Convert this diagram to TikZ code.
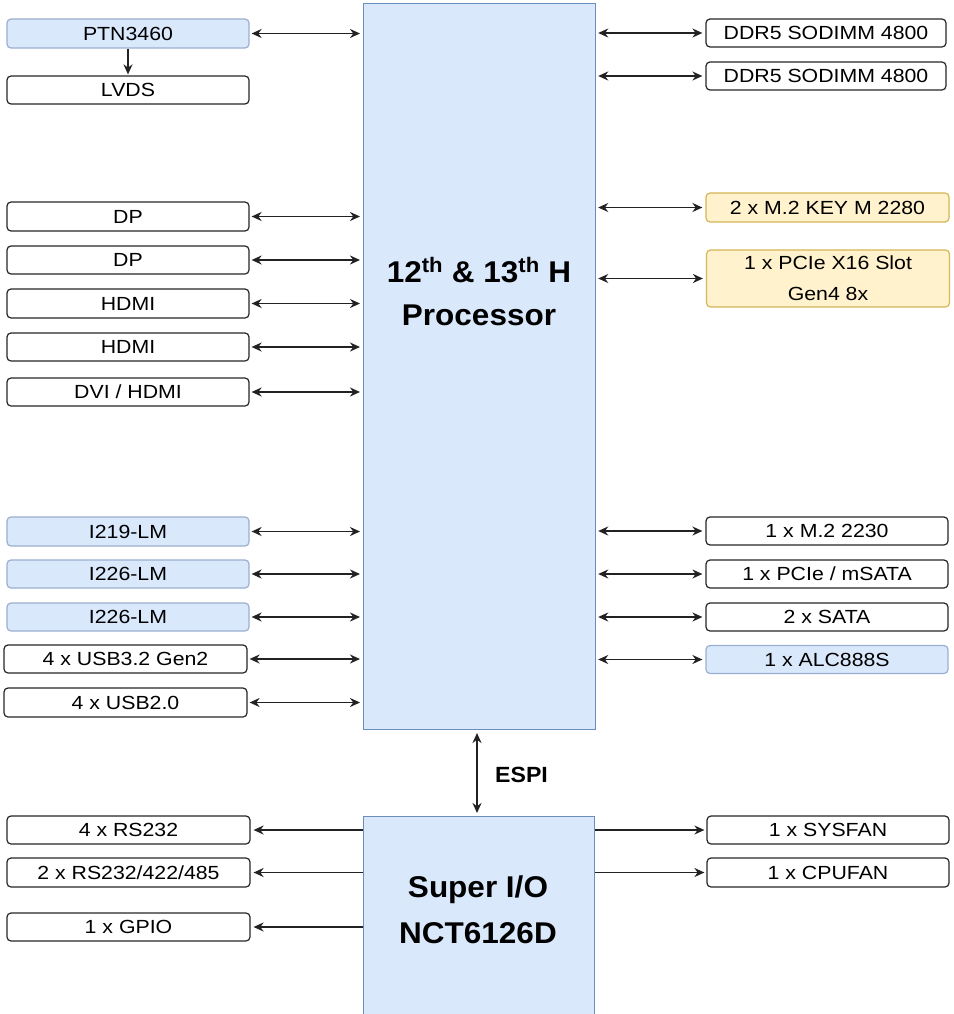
\documentclass[tikz,border=0pt]{standalone}
\usepackage{fontspec}
\setmainfont[FakeStretch=1.12]{Liberation Sans}
\newfontfamily\hdfont[FakeStretch=1.05]{Liberation Sans}
\usetikzlibrary{arrows.meta}
\definecolor{bfill}{HTML}{DAE8FC}
\definecolor{bdraw}{HTML}{6C8EBF}
\definecolor{bsdraw}{HTML}{9AAFCF}
\definecolor{yfill}{HTML}{FFF2CC}
\definecolor{ydraw}{HTML}{D6B656}
\definecolor{kdraw}{HTML}{262626}
\definecolor{adraw}{HTML}{222222}
\tikzset{
  base box/.style={rectangle, rounded corners=4pt, line width=1.2pt, minimum height=28pt, minimum width=242pt, inner sep=0pt, font=\fontsize{19}{22}\selectfont, text=black},
  wbox/.style={base box, draw=kdraw, fill=white},
  bbox/.style={base box, draw=bsdraw, fill=bfill},
  ybox/.style={base box, draw=ydraw, fill=yfill},
  chip/.style={rectangle, draw=bdraw, fill=bfill, line width=1.2pt},
  bigtxt/.style={font=\hdfont\bfseries\fontsize{30}{36}\selectfont, anchor=base, inner sep=0pt},
  conn/.style={line width=1.7pt, draw=adraw, {Stealth[length=10pt,width=9pt]}-{Stealth[length=10pt,width=9pt]}},
  oneway/.style={line width=1.7pt, draw=adraw, -{Stealth[length=10pt,width=9pt]}}
}
\begin{document}
\begin{tikzpicture}[x=1pt,y=-1pt]
\useasboundingbox (0,0) rectangle (953,1014);
% chips
\node[chip, minimum width=232pt, minimum height=726pt, anchor=north west] (proc) at (363,3) {};
\node[chip, minimum width=231pt, minimum height=210pt, anchor=north west] (sio) at (363,816) {};
\node[bigtxt] (pt1) at (479,282) {12\textsuperscript{th} \& 13\textsuperscript{th} H};
\node[bigtxt] (pt2) at (479,325) {Processor};
\node[bigtxt] (st1) at (478,897) {Super I/O};
\node[bigtxt] (st2) at (478,943) {NCT6126D};
\node[font=\hdfont\bfseries\fontsize{22}{26}\selectfont, anchor=base west, inner sep=0pt] (espi) at (495,782) {ESPI};
% left column
\node[bbox, minimum height=29pt] (ptn) at (128,33.5) {PTN3460};
\node[wbox] (lvds) at (128,90) {LVDS};
\node[wbox, minimum height=29pt] (dp1) at (128,216.5) {DP};
\node[wbox] (dp2) at (128,260) {DP};
\node[wbox, minimum height=29pt] (hdmi1) at (128,303.5) {HDMI};
\node[wbox] (hdmi2) at (128,347) {HDMI};
\node[wbox] (dvi) at (128,392) {DVI / HDMI};
\node[bbox, minimum height=29pt] (i219) at (128,531.5) {I219-LM};
\node[bbox] (i226a) at (128,574) {I226-LM};
\node[bbox] (i226b) at (128,617) {I226-LM};
\node[wbox, minimum width=243pt] (usb3) at (125.5,659) {4 x USB3.2 Gen2};
\node[wbox, minimum width=243pt, minimum height=29pt] (usb2) at (125.5,702.5) {4 x USB2.0};
\node[wbox, minimum width=243pt] (rs232) at (128.5,830) {4 x RS232};
\node[wbox, minimum width=243pt, minimum height=29pt] (rs485) at (128.5,872.5) {2 x RS232/422/485};
\node[wbox, minimum width=243pt] (gpio) at (128.5,927) {1 x GPIO};
% right column
\node[wbox, minimum width=240pt] (ddr1) at (826,33) {DDR5 SODIMM 4800};
\node[wbox, minimum width=240pt] (ddr2) at (826,76) {DDR5 SODIMM 4800};
\node[ybox, minimum width=243pt, minimum height=29pt] (m2k) at (827.5,207.5) {2 x M.2 KEY M 2280};
\node[ybox, minimum width=243pt, minimum height=57pt, align=center, font=\fontsize{19}{31}\selectfont] (pcie) at (828,278.5) {1 x PCIe X16 Slot\\Gen4 8x};
\node[wbox] (m2s) at (827,531) {1 x M.2 2230};
\node[wbox] (msata) at (827,574) {1 x PCIe / mSATA};
\node[wbox] (sata) at (827,617) {2 x SATA};
\node[bbox] (alc) at (827,659.5) {1 x ALC888S};
\node[wbox] (sysfan) at (828,830) {1 x SYSFAN};
\node[wbox, minimum height=29pt] (cpufan) at (828,872.5) {1 x CPUFAN};
% connectors left -> processor
\foreach \n in {ptn,dp1,dp2,hdmi1,hdmi2,dvi,i219,i226a,i226b,usb3,usb2}
  \draw[conn, shorten <=2pt, shorten >=3pt] (\n.east) -- (proc.west |- \n.east);
% processor -> right
\foreach \n in {ddr1,ddr2,m2k,pcie,m2s,msata,sata,alc}
  \draw[conn, shorten <=2pt, shorten >=3pt] (proc.east |- \n.west) -- (\n.west);
\draw[oneway, shorten >=1pt] (ptn.south) -- (lvds.north);
\coordinate (e1) at (477,729);
\coordinate (e2) at (477,816);
\draw[conn, shorten <=4pt, shorten >=3pt] (e1) -- (e2);
% super io
\foreach \n in {rs232,rs485,gpio}
  \draw[oneway, shorten >=3pt] (sio.west |- \n.east) -- (\n.east);
\foreach \n in {sysfan,cpufan}
  \draw[oneway, shorten >=2pt] (sio.east |- \n.west) -- (\n.west);
\end{tikzpicture}
\end{document}
